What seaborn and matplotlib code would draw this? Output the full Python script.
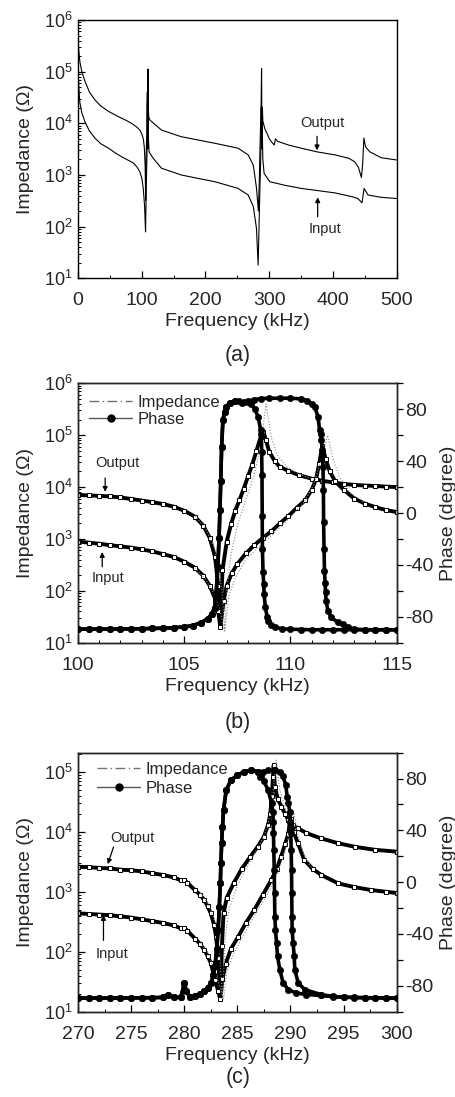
import numpy as np
import matplotlib
matplotlib.use("Agg")
import matplotlib.pyplot as plt
from matplotlib.lines import Line2D
from matplotlib.ticker import MultipleLocator, LogLocator, NullFormatter, FixedLocator
import seaborn as sns

# ---------------- data: panel (a) ----------------
A_OUT_F = [0.3, 1, 3, 6, 11, 18, 27, 36, 48, 63, 75, 84, 92, 97, 100, 102.5, 104, 105.3, 106.2, 107,
           108, 108.8, 109.2, 109.8, 110.3, 111, 113, 131, 162, 215, 251, 267, 275, 280, 283, 284.5,
           285.5, 286.5, 287.3, 288, 288.6, 289.2, 290, 293, 301, 307.8, 309.8, 313, 330, 350, 375,
           403, 425, 434, 440, 444.6, 446.5, 448.5, 451, 458, 476, 500]
A_OUT_Z = [4.2e5, 2.8e5, 1.55e5, 1.0e5, 6.5e4, 4.0e4, 2.8e4, 2.15e4, 1.7e4, 1.35e4, 1.15e4, 1.0e4,
           8.5e3, 7.4e3, 6.3e3, 5.0e3, 3.5e3, 1.6e3, 3.2e2, 2.5e3, 6.3e3, 4.0e4, 4.0e3, 1.12e5, 2.0e4,
           1.32e4, 1.15e4, 7.4e3, 5.5e3, 4.1e3, 3.3e3, 2.45e3, 1.55e3, 5.6e2, 2.0e2, 7.9e2, 3.2e3,
           1.0e4, 2.5e4, 1.15e5, 6.3e3, 2.0e4, 1.12e4, 7.9e3, 4.8e3, 3.8e3, 5.0e3, 4.5e3, 3.8e3,
           3.3e3, 2.8e3, 2.45e3, 2.1e3, 1.8e3, 1.4e3, 8.9e2, 1.6e3, 5.2e3, 3.5e3, 2.8e3, 2.15e3, 1.95e3]
A_IN_F = [0.3, 1.5, 3, 6, 11, 18, 27, 36, 48, 58, 68.5, 78, 87, 93, 97, 100, 102.4, 104.5, 106, 107,
          108.2, 108.9, 109.4, 110.1, 110.6, 111.5, 118, 131, 162, 190, 215, 251, 267, 275, 280,
          282.6, 284, 285.5, 286.8, 287.6, 288.3, 289, 290, 292, 301, 325, 350, 403, 430, 439,
          445.6, 448.8, 455, 475, 500]
A_IN_Z = [1.0e5, 4.5e4, 2.5e4, 1.6e4, 1.07e4, 7.1e3, 5.1e3, 4.0e3, 3.3e3, 2.7e3, 2.25e3, 1.95e3,
          1.7e3, 1.4e3, 1.15e3, 8.9e2, 5.5e2, 2.5e2, 79, 5.0e2, 2.5e3, 2.5e4, 3.2e3, 3.2e4, 5.0e3,
          2.8e3, 2.1e3, 1.35e3, 1.0e3, 8.5e2, 7.4e2, 5.5e2, 4.1e2, 2.45e2, 93, 18, 1.0e2, 6.3e2,
          2.5e3, 2.0e4, 3.2e3, 7.9e3, 2.0e3, 1.07e3, 7.4e2, 6.3e2, 5.5e2, 4.5e2, 3.8e2, 3.5e2,
          2.9e2, 5.5e2, 4.1e2, 3.7e2, 3.5e2]

# ---------------- data: panel (b) ----------------
B_OUT_F = [100.0, 100.5, 101.0, 101.5, 102.0, 102.5, 103.0, 103.5, 104.0, 104.5, 105.0, 105.5,
           105.9, 106.2, 106.45, 106.6, 106.7, 106.8, 107.0, 107.2, 107.4, 107.6, 107.8, 108.0,
           108.2, 108.4, 108.6, 108.73, 108.85, 109.0, 109.25, 109.5, 109.9, 110.4, 111.0, 111.5,
           112.0, 112.5, 113.0, 113.5, 114.0, 114.5, 115.0]
B_OUT_Z = [7100, 6900, 6760, 6600, 6300, 5900, 5500, 5130, 4700, 4200, 3500, 2700,
           1800, 1050, 450, 126, 22, 250, 890, 1900, 3500, 5600, 9300, 1.6e4,
           2.7e4, 5.0e4, 9.3e4, 1.17e5, 7.9e4, 4.8e4, 3.2e4, 2.45e4, 2.05e4, 1.7e4, 1.45e4, 1.32e4,
           1.23e4, 1.15e4, 1.1e4, 1.07e4, 1.05e4, 1.02e4, 1.0e4]
B_IN_F = [100.0, 100.5, 101.0, 101.5, 102.0, 102.5, 103.0, 103.5, 104.0, 104.5, 105.0, 105.5,
          105.9, 106.2, 106.45, 106.6, 106.7, 106.85, 107.0, 107.25, 107.5, 107.9, 108.3, 108.7,
          109.1, 109.5, 109.9, 110.3, 110.7, 111.0, 111.2, 111.35, 111.5, 111.65, 111.85, 112.1,
          112.5, 113.0, 113.5, 114.0, 114.5, 115.0]
B_IN_Z = [890, 850, 810, 760, 720, 680, 630, 575, 510, 450, 365, 280,
          195, 126, 71, 40, 20, 63, 126, 224, 330, 525, 760, 1050,
          1400, 2000, 2750, 4000, 5600, 8900, 1.4e4, 2.8e4, 6.3e4, 3.5e4, 2.0e4, 1.3e4,
          8900, 6000, 4800, 4100, 3600, 3300]
B_OUT_FIT_F = [105.5, 106.0, 106.4, 106.65, 106.8, 106.9, 107.0, 107.2, 107.5, 107.9, 108.3, 108.6,
               108.85, 109.1, 109.4, 109.8, 110.4, 111.0]
B_OUT_FIT_Z = [2800, 1600, 710, 250, 79, 18, 100, 500, 1780, 5600, 1.78e4, 6.3e4,
               4.0e5, 8.9e4, 4.0e4, 2.5e4, 1.78e4, 1.45e4]
B_IN_FIT_F = [105.5, 106.0, 106.4, 106.7, 106.9, 107.1, 107.4, 107.9, 108.5, 109.2, 109.9, 110.6,
              111.1, 111.5, 111.75, 112.0, 112.3, 112.8, 113.5]
B_IN_FIT_Z = [280, 166, 89, 40, 16, 79, 178, 400, 710, 1260, 2400, 4800,
              1.12e4, 4.0e4, 1.0e5, 3.5e4, 1.58e4, 7900, 5000]
# phase (b): common rising part, then output / input tails
B_PH_RISE_F = [100.0, 100.5, 101.0, 101.5, 102.0, 102.5, 103.0, 103.5, 104.0, 104.5, 105.0, 105.4,
               105.8, 106.1, 106.3, 106.43, 106.5, 106.58, 106.64, 106.68, 106.72, 106.76, 106.82,
               106.9, 106.97]
B_PH_RISE = [-89.5, -89.5, -89.5, -89.5, -89.4, -89.3, -89.2, -89.0, -88.8, -88.4, -87.8, -86.8,
             -84.5, -81.5, -78, -73, -62.5, -42, -19, 2, 25, 51, 71.5, 78, 82]
B_PH_OUT_F = [107.15, 107.37, 107.6, 107.8, 108.0, 108.16, 108.33, 108.48, 108.6, 108.63, 108.645,
              108.66, 108.67, 108.68, 108.71, 108.74, 108.76, 108.82, 108.9, 108.95, 109.1, 109.26,
              109.6, 110.0, 110.5, 111.0, 111.5, 112.0, 112.5, 113.0, 113.5, 114.0, 114.5, 115.0]
B_PH_OUT = [85, 86.4, 86, 85.5, 85.2, 84.4, 80, 74, 63.8, 61.2, 47, 29, -2, -27.7, -45.7, -54.7,
            -62.5, -72.8, -80, -83, -86, -88, -89.3, -89.6, -89.8, -90, -90, -90, -90, -90, -90,
            -90, -90, -90]
B_PH_IN_F = [107.15, 107.4, 107.7, 108.0, 108.3, 108.6, 109.0, 109.5, 110.0, 110.5, 110.8, 111.0,
             111.14, 111.3, 111.37, 111.42, 111.46, 111.5, 111.53, 111.55, 111.56, 111.58, 111.6,
             111.63, 111.65, 111.68, 111.76, 111.92, 112.23, 112.45, 112.7, 113.0, 113.5, 114.0,
             114.5, 115.0]
B_PH_IN = [85, 86.5, 85, 86, 87.5, 88.2, 88.5, 88.5, 88.5, 88, 86.5, 84, 81.8, 74, 63.8, 61.2, 56,
           48.3, 35.4, 17.4, -7.1, -27.7, -44.4, -54, -61.2, -67.6, -75.3, -80.5, -84.4, -85.6,
           -88, -89.5, -90, -90, -90, -90]

# ---------------- data: panel (c) ----------------
C_OUT_F = [270, 271, 272, 273, 274, 275, 276, 277, 278, 279, 279.7, 280.0, 280.3, 281.0, 281.5,
           281.9, 282.2, 282.5, 282.8, 283.0, 283.2, 283.4, 283.55, 283.7, 284.0, 284.64, 285.4,
           286.2, 286.9, 287.5, 287.9, 288.1, 288.25, 288.35, 288.42, 288.53, 288.8, 289.15, 289.5,
           289.78, 290.2, 290.7, 291.5, 292.9, 294.5, 296.1, 298, 300]
C_OUT_Z = [2630, 2570, 2510, 2450, 2340, 2290, 2190, 2040, 1910, 1740, 1550, 1580, 1410, 1070, 890,
           725, 575, 437, 282, 178, 79, 16.6, 126, 437, 794, 1380, 2400,
           3800, 5620, 8320, 1.32e4, 2.0e4, 3.98e4, 8.3e4, 1.29e5, 5.6e4, 3.55e4, 2.63e4, 2.0e4,
           1.58e4, 1.32e4, 1.15e4, 9550, 7760, 6460, 5620, 5010, 4680]
C_IN_F = [270, 271, 272, 273, 274, 275, 276, 277, 278, 279, 279.7, 280.0, 280.3, 281.0, 281.5,
          281.9, 282.2, 282.5, 282.9, 283.2, 283.4, 283.6, 283.9, 284.4, 285.08, 285.8, 286.6,
          287.4, 288.2, 288.7, 289.1, 289.5, 289.8, 289.94, 290.05, 290.3, 290.7, 291.3, 292.1,
          292.9, 294.5, 296, 297.6, 299, 300]
C_IN_Z = [437, 427, 417, 407, 389, 372, 347, 324, 302, 275, 245, 251, 224, 166, 135,
          107, 85, 65, 34, 22, 16, 35, 63, 112, 178, 302, 501,
          891, 1580, 2400, 3800, 6310, 9330, 1.48e4, 1.66e4, 1.0e4, 6460, 3390, 2400,
          1910, 1380, 1200, 1070, 1000, 955]
C_OUT_FIT_F = [281.5, 282.3, 282.9, 283.3, 283.6, 283.85, 284.2, 285.0, 286.0, 287.0, 287.8, 288.3,
               288.65, 289.0, 289.5, 290.2, 291.0]
C_OUT_FIT_Z = [955, 603, 316, 126, 16, 158, 501, 1260, 2820, 5620, 1.12e4, 3.16e4,
               1.58e5, 5.0e4, 2.5e4, 1.51e4, 1.12e4]
C_IN_FIT_F = [281.5, 282.3, 282.9, 283.4, 283.7, 284.0, 284.6, 285.5, 286.6, 287.8, 288.8, 289.6,
              290.1, 290.35, 290.7, 291.3, 292.0]
C_IN_FIT_Z = [141, 89, 45, 25, 16, 45, 89, 178, 398, 891, 2000, 5620,
              1.26e4, 2.0e4, 8910, 3980, 2510]
C_PH_RISE_F = [270, 271, 272, 273, 274, 275, 276, 277, 278, 278.5, 279, 279.7, 280.0, 280.2, 280.5,
               281, 281.5, 281.9, 282.2, 282.5, 282.75, 282.9, 283.05, 283.2, 283.3, 283.4, 283.45,
               283.52, 283.6, 283.7, 283.95, 284.4, 285.0, 285.6, 286.3, 286.96]
C_PH_RISE = [-89.5, -89.5, -89.5, -89.5, -89.4, -89.4, -89.3, -89.2, -89.0, -87, -89, -88.5, -78,
             -84, -88.5, -88.2, -86.5, -84.4, -82, -78, -72, -65, -52, -36.8, -18.9, -0.8, 14.6,
             30, 42.8, 55.6, 71, 78.7, 82.6, 85, 86.4, 85.1]
C_PH_OUT_F = [287.2, 287.5, 287.9, 288.22, 288.35, 288.37, 288.4, 288.43, 288.47, 288.5, 288.53,
              288.59, 288.69, 288.78, 289.0, 289.31, 289.8, 290.5, 291.5, 292.9, 294, 295, 296, 297,
              298, 299, 300]
C_PH_OUT = [82, 78, 71, 61, 54.3, 46.6, 37.6, 24.8, 9.4, -8.6, -26.6, -36.8, -47.1, -57.4, -67.6,
            -77.9, -83, -85.5, -86.8, -87.5, -88.5, -88.8, -89, -89.2, -89.3, -89.4, -89.5]
C_PH_IN_F = [287.12, 287.43, 287.9, 288.5, 289.0, 289.3, 289.55, 289.7, 289.8, 289.94, 289.98,
             290.03, 290.07, 290.1, 290.12, 290.14, 290.16, 290.25, 290.35, 290.41, 290.73, 291.35,
             292.9, 294, 295, 296, 297, 298, 299, 300]
C_PH_IN = [81.5, 85.1, 86.4, 86.4, 85, 82, 75, 66, 60.8, 54.3, 46.6, 37.6, 24.8, 9.4, -8.6, -26.6,
           -36.8, -47.1, -57.4, -67.6, -77.9, -83, -86.9, -88.2, -88.8, -89.1, -89.3, -89.4, -89.5,
           -89.5]

# ---------------- style ----------------
sns.set_style("ticks")
plt.rcParams["font.family"] = ["Liberation Sans", "DejaVu Sans"]
plt.rcParams["mathtext.fontset"] = "custom"
plt.rcParams["mathtext.rm"] = "Liberation Sans"
plt.rcParams["axes.unicode_minus"] = False
plt.rcParams["axes.linewidth"] = 1.0

XTICK_FS = 14
YTICK_FS = 13
LABEL_FS = 14
ANN_FS = 10.5

fig = plt.figure(figsize=(4.56, 10.97), dpi=100)
L, W = 0.171, 0.699
ax_a = fig.add_axes([L, 0.7463, W, 0.2355])
ax_b = fig.add_axes([L, 0.4141, W, 0.2365])
ax_c = fig.add_axes([L, 0.0778, W, 0.2361])


def style_log_axis(ax, xlim, ylim, xmaj, xmin):
    ax.set_yscale("log")
    ax.set_xlim(*xlim)
    ax.set_ylim(*ylim)
    ax.xaxis.set_major_locator(MultipleLocator(xmaj))
    ax.xaxis.set_minor_locator(MultipleLocator(xmin))
    ax.yaxis.set_major_locator(LogLocator(base=10, numticks=10))
    ax.yaxis.set_minor_locator(LogLocator(base=10, subs=np.arange(2, 10), numticks=20))
    ax.yaxis.set_minor_formatter(NullFormatter())
    ax.tick_params(which="both", direction="in", top=False, right=False, color="k")
    ax.tick_params(axis="x", which="major", length=5, width=0.9, pad=10, labelsize=XTICK_FS)
    ax.tick_params(axis="y", which="major", length=5, width=0.9, pad=4, labelsize=YTICK_FS)
    ax.tick_params(which="minor", length=2.5, width=0.7)
    ax.set_xlabel("Frequency (kHz)", fontsize=LABEL_FS, labelpad=3)
    ax.set_ylabel("Impedance (\u03a9)", fontsize=LABEL_FS, labelpad=7)
    for s in ax.spines.values():
        s.set_visible(True)
        s.set_linewidth(1.0)
        s.set_color("k")


def arrow(ax, head, tail):
    ax.annotate("", xy=head, xytext=tail,
                arrowprops=dict(arrowstyle="-|>", color="k", lw=0.9, mutation_scale=7,
                                shrinkA=0, shrinkB=0))


# ---------------- panel (a) ----------------
sns.lineplot(x=A_OUT_F, y=A_OUT_Z, ax=ax_a, estimator=None, sort=False, color="k", linewidth=0.8)
sns.lineplot(x=A_IN_F, y=A_IN_Z, ax=ax_a, estimator=None, sort=False, color="k", linewidth=0.8)
style_log_axis(ax_a, (0, 500), (10, 1e6), 100, 50)
ax_a.text(384, 1.0e4, "Output", fontsize=ANN_FS, ha="center", va="center")
arrow(ax_a, (375, 3.0e3), (375, 5.6e3))
ax_a.text(387, 91, "Input", fontsize=ANN_FS, ha="center", va="center")
arrow(ax_a, (376, 3.7e2), (376, 1.55e2))


# ---------------- panels (b), (c) ----------------
def impedance(ax, f, z):
    sns.lineplot(x=f, y=z, ax=ax, estimator=None, sort=False, color="k", linewidth=2.8,
                 marker="s", markersize=3.2, markerfacecolor="white", markeredgecolor="k",
                 markeredgewidth=0.7, zorder=2)


def fit(ax, f, z):
    sns.lineplot(x=f, y=z, ax=ax, estimator=None, sort=False, color="0.55", linewidth=0.8,
                 linestyle=":", zorder=4)


def phase(ax, f, p):
    sns.lineplot(x=f, y=p, ax=ax, estimator=None, sort=False, color="k", linewidth=2.6,
                 marker="o", markersize=4.6, markerfacecolor="k", markeredgecolor="k",
                 markeredgewidth=0.4, zorder=3)


def style_phase(ax2):
    ax2.set_ylim(-100, 100)
    ax2.yaxis.set_major_locator(FixedLocator([-80, -40, 0, 40, 80]))
    ax2.yaxis.set_minor_locator(MultipleLocator(20))
    ax2.tick_params(which="both", direction="out", left=False, right=True, color="k")
    ax2.tick_params(which="major", length=4, width=0.9, pad=2, labelsize=XTICK_FS)
    ax2.tick_params(which="minor", length=4, width=0.9)
    ax2.set_ylabel("Phase (degree)", fontsize=LABEL_FS, labelpad=5)


def legend(ax2, anchor, spacing):
    h_imp = Line2D([], [], color="0.45", linewidth=1.0, linestyle=(0, (7, 2.5, 1, 2.5)))
    h_ph = Line2D([], [], color="0.35", linewidth=1.0, marker="o", markersize=5,
                  markerfacecolor="k", markeredgecolor="k")
    ax2.legend([h_imp, h_ph], ["Impedance", "Phase"], loc="upper left", bbox_to_anchor=anchor,
               frameon=False, fontsize=12, handlelength=2.6, handletextpad=0.3,
               labelspacing=spacing, borderaxespad=0.0, borderpad=0.0)


# (b)
impedance(ax_b, B_OUT_F, B_OUT_Z)
impedance(ax_b, B_IN_F, B_IN_Z)
fit(ax_b, B_OUT_FIT_F, B_OUT_FIT_Z)
fit(ax_b, B_IN_FIT_F, B_IN_FIT_Z)
style_log_axis(ax_b, (100, 115), (10, 1e6), 5, 1)
ax_b.text(101.85, 2.9e4, "Output", fontsize=ANN_FS, ha="center", va="center")
arrow(ax_b, (101.28, 8.1e3), (101.28, 1.5e4))
ax_b.text(101.42, 1.78e2, "Input", fontsize=ANN_FS, ha="center", va="center")
arrow(ax_b, (101.14, 5.6e2), (101.14, 2.9e2))
axb2 = ax_b.twinx()
phase(axb2, B_PH_RISE_F + B_PH_OUT_F, B_PH_RISE + B_PH_OUT)
phase(axb2, B_PH_RISE_F + B_PH_IN_F, B_PH_RISE + B_PH_IN)
style_phase(axb2)
legend(axb2, (0.035, 0.955), 0.12)

# (c)
impedance(ax_c, C_OUT_F, C_OUT_Z)
impedance(ax_c, C_IN_F, C_IN_Z)
fit(ax_c, C_OUT_FIT_F, C_OUT_FIT_Z)
fit(ax_c, C_IN_FIT_F, C_IN_FIT_Z)
style_log_axis(ax_c, (270, 300), (10, 2.1e5), 5, 2.5)
ax_c.text(275.08, 7.9e3, "Output", fontsize=ANN_FS, ha="center", va="center")
arrow(ax_c, (272.8, 2.9e3), (273.35, 5.6e3))
ax_c.text(273.2, 93, "Input", fontsize=ANN_FS, ha="center", va="center")
arrow(ax_c, (272.4, 4.1e2), (272.4, 1.55e2))
axc2 = ax_c.twinx()
phase(axc2, C_PH_RISE_F + C_PH_OUT_F, C_PH_RISE + C_PH_OUT)
phase(axc2, C_PH_RISE_F + C_PH_IN_F, C_PH_RISE + C_PH_IN)
style_phase(axc2)
legend(axc2, (0.06, 0.965), 0.25)

for ax in (ax_a, ax_b, ax_c):
    ax.tick_params(which="both", top=False, right=False)

fig.text(0.522, 0.676, "(a)", fontsize=15.5, ha="center", va="center")
fig.text(0.522, 0.341, "(b)", fontsize=15.5, ha="center", va="center")
fig.text(0.522, 0.0175, "(c)", fontsize=15.5, ha="center", va="center")

fig.savefig("out.png", dpi=100)
